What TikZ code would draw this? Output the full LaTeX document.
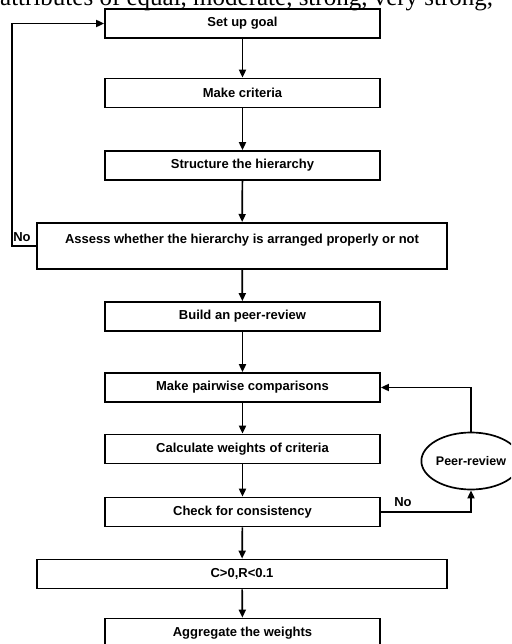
\documentclass[tikz,border=0pt]{standalone}
\usepackage{fontspec}
\setmainfont{Liberation Sans}
\newfontfamily\serifpart{Liberation Serif}
\usetikzlibrary{arrows.meta,shapes.geometric}
\tikzset{
  stepbox/.style={draw, line width=1.7pt, minimum width=275pt, minimum height=29pt, inner sep=0pt, font=\fontsize{13}{15}\selectfont\bfseries},
  widebox/.style={stepbox, minimum width=410pt},
  flow/.style={line width=1.7pt, -{Triangle[length=8pt,width=7pt]}},
  lbl/.style={font=\fontsize{13}{15}\selectfont\bfseries, inner sep=0pt},
}
\begin{document}
\begin{tikzpicture}[x=1pt,y=-1pt]
\useasboundingbox (0,0) rectangle (511,644);
\clip (0,0) rectangle (511,644);
\node[anchor=base west, inner sep=0pt, font=\serifpart\fontsize{25}{28}\selectfont] (top) at (0,6) {attributes of equal, moderate, strong, very strong,};
\node[stepbox] (goal) at (242.5,23.5) {Set up goal};
\node[stepbox] (crit) at (242.5,93) {Make criteria};
\node[stepbox] (struct) at (242.5,165.5) {Structure the hierarchy};
\node[widebox, anchor=north, text height=20.5pt, text depth=25.5pt, minimum height=46pt] (assess) at (242,222) {Assess whether the hierarchy is arranged properly or not};
\node[stepbox] (build) at (242.5,316.5) {Build an peer-review};
\node[stepbox] (pair) at (242.5,387.5) {Make pairwise comparisons};
\node[stepbox] (calc) at (242.5,449) {Calculate weights of criteria};
\node[stepbox] (check) at (242.5,512) {Check for consistency};
\node[widebox] (cr) at (242,574) {C>0,R<0.1};
\node[stepbox] (agg) at (242.5,633) {Aggregate the weights};
\node[draw, ellipse, line width=1.7pt, minimum width=84pt, minimum height=57pt, inner sep=0pt, font=\fontsize{12.5}{14}\selectfont\bfseries] (peer) at (471,461) {Peer-review};
\coordinate (lc) at (12,0);
\draw[flow] (goal) -- (crit);
\draw[flow] (crit) -- (struct);
\draw[flow] (struct) -- (assess);
\draw[flow] (assess) -- (build);
\draw[flow] (build) -- (pair);
\draw[flow] (pair) -- (calc);
\draw[flow] (calc) -- (check);
\draw[flow] (check) -- (cr);
\draw[flow] (cr) -- (agg);
\draw[flow] (assess.west) -| (lc |- goal.west) -- (goal.west);
\draw[flow] (peer.north) |- (pair.east);
\draw[flow] (check.east) -| (peer.south);
\node[lbl] (no1) at (22,237) {No};
\node[lbl] (no2) at (403,502) {No};
\end{tikzpicture}
\end{document}
